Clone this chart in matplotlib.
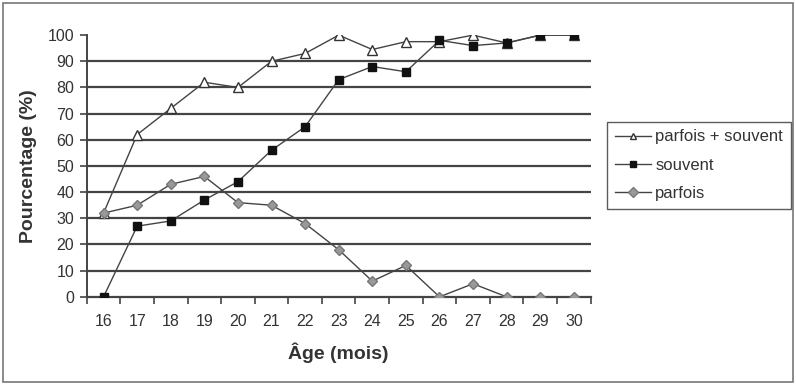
import matplotlib
matplotlib.use("Agg")
import matplotlib.pyplot as plt
from matplotlib.patches import Rectangle
import numpy as np

ages = [16, 17, 18, 19, 20, 21, 22, 23, 24, 25, 26, 27, 28, 29, 30]
parfois_souvent = [32, 62, 72, 82, 80, 90, 93, 100, 94.5, 97.5, 97.5, 100, 97, 100, 100]
souvent = [0, 27, 29, 37, 44, 56, 65, 83, 88, 86, 98, 96, 97, 100, 100]
parfois = [32, 35, 43, 46, 36, 35, 28, 18, 6, 12, 0, 5, 0, 0, 0]

plt.rcParams['font.family'] = ['Liberation Sans', 'DejaVu Sans']

fig = plt.figure(figsize=(7.96, 3.86), dpi=100)
fig.patch.set_facecolor('white')
fig.patches.append(Rectangle((0.004, 0.01), 0.992, 0.982, transform=fig.transFigure,
                             fill=False, edgecolor='#777777', linewidth=1.2))

ax = fig.add_axes([0.109, 0.231, 0.633, 0.678])
line_col = '#444444'
ax.plot(ages, parfois_souvent, color=line_col, lw=1.0, marker='^', ms=6.5,
        mfc='white', mec='#333333', mew=1.0, label='parfois + souvent', zorder=3)
ax.plot(ages, souvent, color=line_col, lw=1.0, marker='s', ms=6,
        mfc='#111111', mec='#111111', label='souvent', zorder=4)
ax.plot(ages, parfois, color=line_col, lw=1.0, marker='D', ms=5.5,
        mfc='#999999', mec='#777777', label='parfois', zorder=3)

ax.set_xlim(15.5, 30.5)
ax.set_ylim(0, 100)
for v in range(10, 100, 10):
    ax.axhline(v, color='#444444', lw=1.6, zorder=1)

ax.set_xticks(np.arange(15.5, 31, 1))
ax.set_xticklabels([])
ax.set_xticks(ages, minor=True)
ax.set_xticklabels([str(a) for a in ages], minor=True)
ax.tick_params(axis='x', which='major', length=5, width=1.2, color='#444444', direction='out')
ax.tick_params(axis='x', which='minor', length=0, pad=12, labelsize=11.5, labelcolor='#333333')
ax.set_yticks(range(0, 101, 10))
ax.tick_params(axis='y', length=5, width=1.2, color='#444444', labelsize=11.5,
               labelcolor='#333333', pad=4)

for s in ['top', 'right']:
    ax.spines[s].set_visible(False)
ax.spines['left'].set_color('#444444')
ax.spines['left'].set_linewidth(1.4)
ax.spines['bottom'].set_color('#444444')
ax.spines['bottom'].set_linewidth(1.6)

ax.set_xlabel('Âge (mois)', fontsize=14, fontweight='bold', color='#333333', labelpad=10)
ax.set_ylabel('Pourcentage (%)', fontsize=14, fontweight='bold', color='#333333', labelpad=8)

leg = fig.legend(loc='upper left', bbox_to_anchor=(0.7626, 0.684), fontsize=12,
                 frameon=True, fancybox=False, edgecolor='#333333', handlelength=2.2,
                 borderpad=0.45, labelspacing=0.8, handletextpad=0.25, borderaxespad=0)
leg.get_frame().set_linewidth(1.0)
for t in leg.get_texts():
    t.set_color('#333333')
for h in leg.legend_handles:
    h.set_markersize(5)

fig.savefig('out.png', dpi=100)
